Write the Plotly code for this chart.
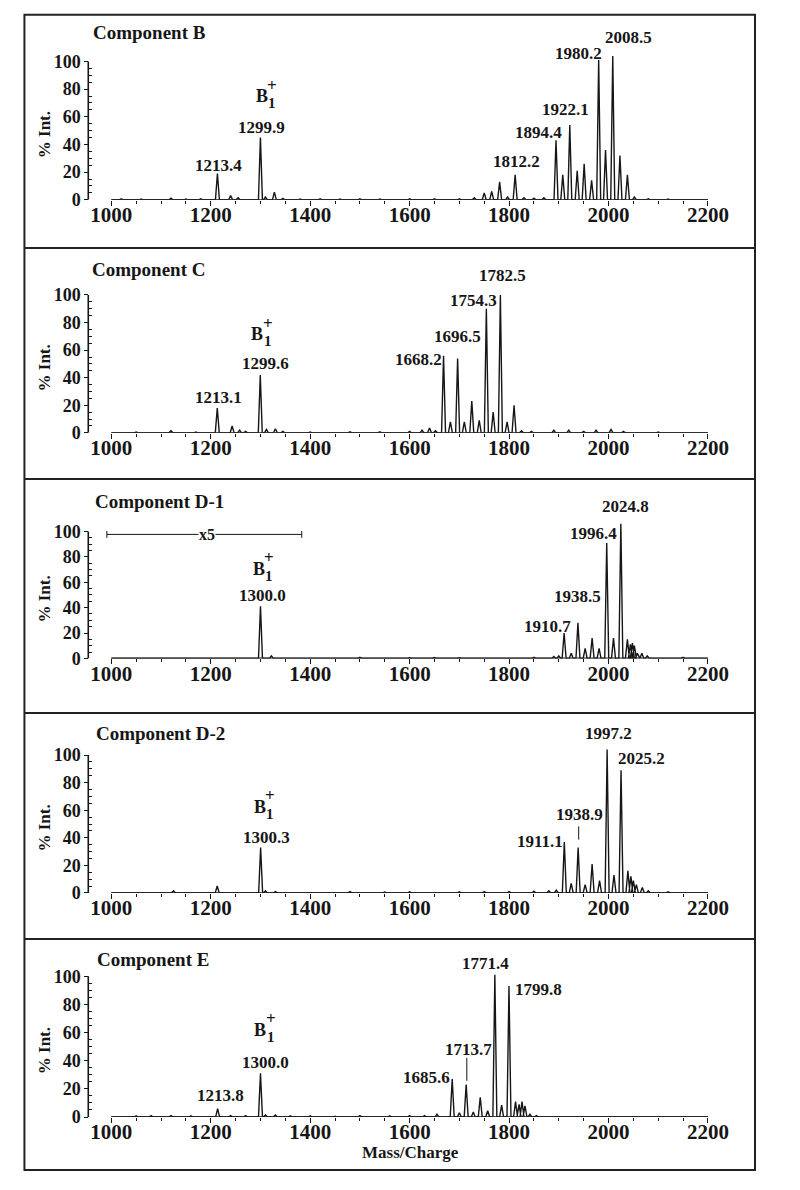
import plotly.graph_objects as go

# ---------------- data ----------------
titles = ["Component B", "Component C", "Component D-1", "Component D-2", "Component E"]

b_mass = [1020, 1060, 1120, 1150, 1180, 1213.4, 1240, 1255, 1299.9, 1310, 1328, 1345, 1380, 1420,
          1460, 1500, 1540, 1600, 1650, 1700, 1730, 1750, 1765, 1781, 1797, 1812.2, 1830, 1850,
          1870, 1894.4, 1908, 1922.1, 1937, 1951, 1966, 1980.2, 1994, 2008.5, 2023, 2038, 2052,
          2080, 2120]
b_int = [0.8, 0.6, 1.2, 0.6, 0.8, 19, 3, 1.5, 45, 2, 5.5, 1, 0.6, 0.8,
         0.6, 0.8, 0.6, 0.7, 0.8, 0.8, 1.5, 5, 6, 13, 2, 18, 1.5, 1.2,
         1.5, 43, 18, 54, 21, 26, 14, 101, 36, 104, 32, 18, 2,
         0.8, 0.6]

c_mass = [1050, 1120, 1170, 1213.1, 1243, 1258, 1270, 1299.6, 1312, 1330, 1345, 1400, 1480, 1540,
          1600, 1625, 1640, 1652, 1668.2, 1682, 1696.5, 1710, 1725, 1740, 1754.3, 1768, 1782.5,
          1796, 1810, 1825, 1845, 1890, 1920, 1950, 1975, 2005, 2030, 2100]
c_int = [0.6, 1.5, 0.6, 18, 5, 2, 1, 42, 2.5, 3, 1, 0.6, 0.8, 0.8,
         1, 2, 3.5, 1.5, 56, 8, 54, 8, 23, 9, 90, 15, 100,
         8, 20, 1.5, 1, 2, 2, 1, 2, 2.5, 1, 0.6]

d1_mass = [1050, 1150, 1250, 1300.0, 1322, 1400, 1500, 1600, 1650, 1700, 1850, 1890, 1900,
           1910.7, 1925, 1938.5, 1953, 1967, 1981, 1996.4, 2010, 2024.8, 2038, 2044, 2048,
           2052, 2058, 2067, 2078, 2150]
d1_int = [0.5, 0.5, 0.5, 41, 2, 0.5, 0.8, 0.5, 0.7, 0.5, 0.8, 1.5, 2,
          20, 4, 28, 8, 16, 8, 91, 16, 106, 15, 11, 12,
          10, 4, 4, 2, 0.8]

d2_mass = [1125, 1213, 1300.3, 1310, 1330, 1480, 1550, 1600, 1700, 1750, 1800, 1850, 1880, 1895,
           1911.1, 1925, 1938.9, 1953, 1967, 1982, 1997.2, 2011, 2025.2, 2039, 2045, 2050, 2056,
           2068, 2080, 2120]
d2_int = [1.5, 5, 33, 1.5, 1, 1, 0.6, 0.8, 0.8, 1, 1, 1.2, 1.5, 2,
          37, 7, 33, 6, 21, 9, 104, 13, 89, 16, 12, 9, 6,
          4, 1.5, 0.8]

e_mass = [1050, 1080, 1120, 1160, 1213.8, 1240, 1270, 1300.0, 1310, 1330, 1360, 1400, 1450, 1500,
          1560, 1600, 1630, 1655, 1685.6, 1700, 1713.7, 1728, 1742, 1757, 1771.4, 1785, 1799.8,
          1813, 1820, 1826, 1832, 1842, 1855]
e_int = [0.8, 1, 1, 0.8, 6, 1, 1, 31, 1.5, 1.5, 0.8, 0.8, 0.6, 1,
         0.8, 1, 1, 2, 27, 3, 23, 3.5, 14, 4.5, 101, 8.5, 93,
         11, 9, 11, 8, 2, 1]

# peak labels (text)
b_labels = ["1213.4", "1299.9", "1812.2", "1894.4", "1922.1", "1980.2", "2008.5"]
c_labels = ["1213.1", "1299.6", "1668.2", "1696.5", "1754.3", "1782.5"]
d1_labels = ["1300.0", "1910.7", "1938.5", "1996.4", "2024.8"]
d2_labels = ["1300.3", "1911.1", "1938.9", "1997.2", "2025.2"]
e_labels = ["1213.8", "1300.0", "1685.6", "1713.7", "1771.4", "1799.8"]

x_ticks = [1000, 1200, 1400, 1600, 1800, 2000, 2200]
y_ticks = [0, 20, 40, 60, 80, 100]

# ---------------- label placement (data coords) ----------------
b_lab_pos = [(1215, 25), (1302, 52.5), (1814.6, 27.4), (1859.5, 48.9), (1914, 65.6), (1940, 106), (2039.6, 117)]
c_lab_pos = [(1216.5, 25.8), (1309.7, 50.2), (1618.4, 53.1), (1695.5, 70), (1727.8, 95.8), (1787.5, 114.5)]
d1_lab_pos = [(1303.3, 49.5), (1877.5, 24.8), (1938, 48.7), (1970, 98.2), (2033.2, 119.5)]
d2_lab_pos = [(1313, 40.4), (1862.8, 37.5), (1942, 57.2), (1999.8, 116), (2066.6, 97.5)]
e_lab_pos = [(1219.6, 15.1), (1309.7, 38.6), (1633.2, 28), (1719.3, 48), (1753.4, 109), (1859.5, 90.3)]
b1_pos = [(1303, 75), (1293.6, 71.8), (1296.8, 70.8), (1298.7, 62.7), (1300, 62.1)]

masses = [b_mass, c_mass, d1_mass, d2_mass, e_mass]
intens = [b_int, c_int, d1_int, d2_int, e_int]
labels = [b_labels, c_labels, d1_labels, d2_labels, e_labels]
lab_pos = [b_lab_pos, c_lab_pos, d1_lab_pos, d2_lab_pos, e_lab_pos]

# ---------------- layout geometry (pixels) ----------------
W, H = 800, 1190
p0s = [201.5, 436.5, 664, 900.5, 1126.5]
p100s = [62, 297.5, 536, 761.5, 984.5]
ytops = [125, 122, 128, 122, 116]
title_y = [33, 272, 506, 740, 968]
title_x = [83, 82, 85, 86, 87]
xpix1000, xpix2200 = 104.5, 726
xmin = 980
ppx = (xpix2200 - xpix1000) / 1200.0
xdom = [(xpix1000 - (1000 - xmin) * ppx) / W, xpix2200 / W]
ypos = 80.5 / W

FONT = "Liberation Serif"
INK = "#161616"

fig = go.Figure()
shapes = []
annotations = []


def spectrum(mass, inten, hw=4.0):
    xs, ys = [1000], [0]
    for m, h in sorted(zip(mass, inten)):
        xs += [m - hw, m, m + hw]
        ys += [0, h, 0]
    xs.append(2200)
    ys.append(0)
    return xs, ys


minor_x = [v for v in range(1050, 2200, 50) if v % 200 != 0]
minor_y = [v for v in range(5, 100, 5) if v % 20 != 0]

for i in range(5):
    n = "" if i == 0 else str(i + 1)
    xa, ya = "x" + n, "y" + n
    p0, p100, ytop = p0s[i], p100s[i], ytops[i]
    ppu = (p0 - p100) / 100.0
    dom = [1 - p0 / H, 1 - (p0 - ppu * ytop) / H]
    xs, ys = spectrum(masses[i], intens[i])
    fig.add_trace(go.Scatter(x=xs, y=ys, mode="lines", xaxis=xa, yaxis=ya,
                             line=dict(color=INK, width=1.4), showlegend=False, hoverinfo="skip"))
    fig.layout["xaxis" + n] = dict(
        domain=xdom, range=[xmin, 2200], anchor=ya, showline=False, showgrid=False, zeroline=False,
        tickmode="array", tickvals=x_ticks, ticktext=[str(v) for v in x_ticks],
        ticks="outside", ticklen=5, tickwidth=1.3, tickcolor=INK, ticklabelstandoff=-9,
        minor=dict(tickmode="array", tickvals=minor_x, ticks="outside", ticklen=3, tickwidth=1, tickcolor=INK),
        tickfont=dict(family=FONT, size=21, color=INK, weight="bold"), fixedrange=True)
    fig.layout["yaxis" + n] = dict(
        domain=dom, range=[0, ytop], anchor="free", position=ypos, showline=False, showgrid=False,
        zeroline=False, tickmode="array", tickvals=y_ticks, ticktext=[str(v) for v in y_ticks],
        ticks="outside", ticklen=4, tickwidth=1.3, tickcolor=INK,
        minor=dict(tickmode="array", tickvals=minor_y, ticks="inside", ticklen=3, tickwidth=1, tickcolor=INK),
        tickfont=dict(family=FONT, size=18, color=INK, weight="bold"), fixedrange=True)
    # axis lines
    shapes.append(dict(type="line", xref=xa, yref=ya, x0=1000, x1=2200, y0=0, y1=0,
                       line=dict(color=INK, width=1.6)))
    shapes.append(dict(type="line", xref="paper", yref=ya, x0=ypos, x1=ypos, y0=0, y1=100,
                       line=dict(color=INK, width=1.6)))
    # title
    annotations.append(dict(text=titles[i], xref="paper", yref="paper", x=title_x[i] / W,
                            y=1 - title_y[i] / H, xanchor="left", yanchor="middle", showarrow=False,
                            font=dict(family=FONT, size=19, color=INK, weight="bold")))
    # y title
    annotations.append(dict(text="% Int.", xref="paper", yref="paper", x=35 / W,
                            y=1 - ((p0 + p100) / 2 + 4) / H, textangle=-90, xanchor="center",
                            yanchor="middle", showarrow=False,
                            font=dict(family=FONT, size=17, color=INK, weight="bold")))
    # peak labels
    for t, (lx, ly) in zip(labels[i], lab_pos[i]):
        annotations.append(dict(text=t, xref=xa, yref=ya, x=lx, y=ly, xanchor="center",
                                yanchor="middle", showarrow=False,
                                font=dict(family=FONT, size=17, color=INK, weight="bold")))
    # B1+ label
    bx, by = b1_pos[i]
    annotations.append(dict(text="B", xref=xa, yref=ya, x=bx, y=by, showarrow=False,
                            xanchor="center", yanchor="middle",
                            font=dict(family=FONT, size=18, color=INK, weight="bold")))
    annotations.append(dict(text="+", xref=xa, yref=ya, x=bx, y=by, xshift=10.5, yshift=10.7,
                            showarrow=False, xanchor="center", yanchor="middle",
                            font=dict(family=FONT, size=17, color=INK, weight="bold")))
    annotations.append(dict(text="1", xref=xa, yref=ya, x=bx, y=by, xshift=10.5, yshift=-7.3,
                            showarrow=False, xanchor="center", yanchor="middle",
                            font=dict(family=FONT, size=15, color=INK, weight="bold")))

# leader lines
shapes.append(dict(type="line", xref="x4", yref="y4", x0=1940, x1=1940, y0=38.7, y1=48.3,
                   line=dict(color=INK, width=1)))
shapes.append(dict(type="line", xref="x5", yref="y5", x0=1715, x1=1715, y0=25.7, y1=42,
                   line=dict(color=INK, width=1)))

# x5 bracket in D-1
shapes.append(dict(type="line", xref="x3", yref="y3", x0=991, x1=1383, y0=97.7, y1=97.7,
                   line=dict(color=INK, width=1)))
for xe in (991, 1383):
    shapes.append(dict(type="line", xref="x3", yref="y3", x0=xe, x1=xe, y0=95, y1=100.4,
                       line=dict(color=INK, width=1)))
annotations.append(dict(text="x5", xref="x3", yref="y3", x=1192, y=97.7, showarrow=False,
                        xanchor="center", yanchor="middle", bgcolor="white", borderpad=0,
                        font=dict(family=FONT, size=16, color=INK, weight="bold")))

# x title
annotations.append(dict(text="Mass/Charge", xref="paper", yref="paper", x=416 / W, y=1 - 1162 / H,
                        xanchor="center", yanchor="middle", showarrow=False,
                        font=dict(family=FONT, size=17, color=INK, weight="bold")))

# frame and separators
shapes.append(dict(type="rect", xref="paper", yref="paper", x0=14 / W, x1=775 / W,
                   y0=1 - 1180 / H, y1=1 - 15 / H, line=dict(color="#222222", width=2)))
for sy in (250, 483, 719, 947):
    shapes.append(dict(type="line", xref="paper", yref="paper", x0=14 / W, x1=775 / W,
                       y0=1 - sy / H, y1=1 - sy / H, line=dict(color="#222222", width=2)))

fig.update_layout(width=W, height=H, margin=dict(l=0, r=0, t=0, b=0),
                  paper_bgcolor="white", plot_bgcolor="white", showlegend=False,
                  shapes=shapes, annotations=annotations)

fig.write_html("out.html", config={"displayModeBar": False},
               post_script="document.body.style.margin='0px';document.body.style.overflow='hidden';")
